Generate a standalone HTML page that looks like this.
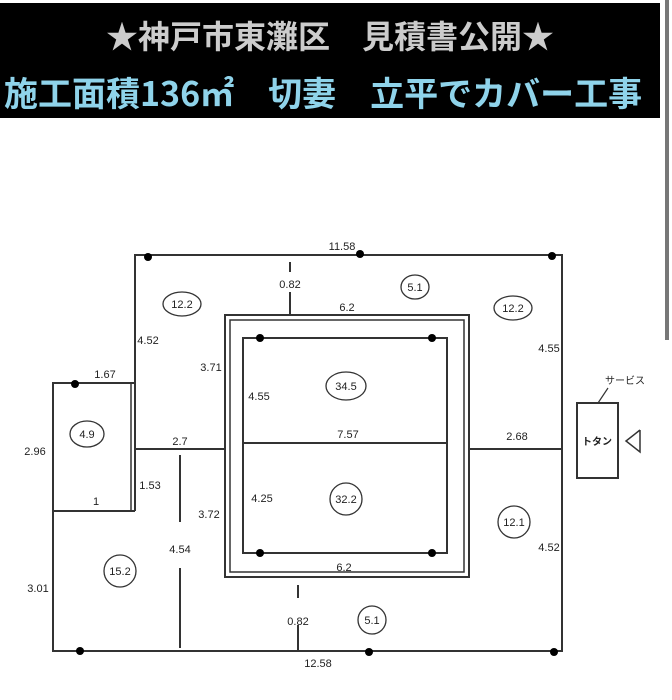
<!DOCTYPE html>
<html><head><meta charset="utf-8"><style>
body{margin:0;width:672px;height:700px;background:#fff;overflow:hidden;position:relative;font-family:"Liberation Sans","Noto Sans CJK JP",sans-serif}
.hd{position:absolute;left:0;top:3px;width:660px;height:115px;background:#000}
.t1{position:absolute;left:0;width:660px;top:12px;text-align:center;color:#ccc;font-size:32px;line-height:40px;font-weight:bold;font-family:"Noto Sans CJK JP",sans-serif;white-space:nowrap}
.t2{position:absolute;left:4px;top:68px;color:#8fd3ea;font-size:34px;line-height:42px;font-weight:bold;font-family:"Noto Sans CJK JP",sans-serif;white-space:nowrap}
</style></head><body>
<div class="hd"><div class="t1">★神戸市東灘区　見積書公開★</div><div class="t2">施工面積136㎡　切妻　立平でカバー工事</div></div>
<div style="position:absolute;left:665px;top:0;width:4px;height:340px;background:#777"></div>
<svg width="672" height="700" style="position:absolute;left:0;top:0" font-family="Liberation Sans, Noto Sans CJK JP, sans-serif" font-size="11" fill="#222">
<g stroke="#333" stroke-width="2" fill="none">
<polyline points="135,383 135,255 562,255 562,651 53,651 53,383 135,383"/>
<line x1="53" y1="511" x2="135" y2="511"/>
<line x1="131" y1="383" x2="131" y2="511" stroke-width="1.5"/>
<line x1="135" y1="383" x2="135" y2="511"/>
<line x1="135" y1="449" x2="225" y2="449"/>
<line x1="469" y1="449" x2="562" y2="449"/>
<rect x="225" y="315" width="244" height="262"/>
<rect x="230" y="320" width="234" height="252" stroke-width="1.5"/>
<rect x="243" y="338" width="204" height="215"/>
<line x1="243" y1="443" x2="447" y2="443"/>
<line x1="290" y1="262" x2="290" y2="272"/><line x1="290" y1="292" x2="290" y2="315"/>
<line x1="298" y1="585" x2="298" y2="598"/><line x1="298" y1="625" x2="298" y2="651"/>
<line x1="180" y1="455" x2="180" y2="522"/><line x1="180" y1="568" x2="180" y2="648"/>
<rect x="577" y="403" width="41" height="75"/>
<line x1="598" y1="403" x2="608" y2="388" stroke-width="1.2"/>
<polyline points="640,430 626,441 640,452 640,430" stroke-width="1.5"/>
</g>
<g fill="#000">
<circle cx="148" cy="257" r="4"/><circle cx="360" cy="254" r="4"/><circle cx="552" cy="256" r="4"/>
<circle cx="75" cy="384" r="4"/><circle cx="80" cy="651" r="4"/><circle cx="369" cy="652" r="4"/><circle cx="554" cy="652" r="4"/>
<circle cx="260" cy="338" r="4"/><circle cx="432" cy="338" r="4"/><circle cx="260" cy="553" r="4"/><circle cx="432" cy="553" r="4"/>
</g>
<g fill="none" stroke="#333" stroke-width="1.3">
<ellipse cx="182" cy="304" rx="19" ry="12"/><ellipse cx="415" cy="287" rx="14" ry="12"/><ellipse cx="513" cy="308" rx="19" ry="12"/>
<ellipse cx="87" cy="434" rx="17" ry="13"/><ellipse cx="346" cy="386" rx="20" ry="14"/><ellipse cx="346" cy="499" rx="16" ry="16"/>
<ellipse cx="514" cy="522" rx="16" ry="16"/><ellipse cx="120" cy="571" rx="16" ry="16"/><ellipse cx="372" cy="620" rx="14" ry="14"/>
</g>
<g text-anchor="middle">
<text x="182" y="308">12.2</text><text x="415" y="291">5.1</text><text x="513" y="312">12.2</text>
<text x="87" y="438">4.9</text><text x="346" y="390">34.5</text><text x="346" y="503">32.2</text>
<text x="514" y="526">12.1</text><text x="120" y="575">15.2</text><text x="372" y="624">5.1</text>
<text x="342" y="250">11.58</text><text x="290" y="288">0.82</text><text x="347" y="311">6.2</text>
<text x="148" y="344">4.52</text><text x="549" y="352">4.55</text><text x="105" y="378">1.67</text>
<text x="211" y="371">3.71</text><text x="259" y="400">4.55</text><text x="35" y="455">2.96</text>
<text x="180" y="445">2.7</text><text x="348" y="438">7.57</text><text x="517" y="440">2.68</text>
<text x="150" y="489">1.53</text><text x="96" y="505">1</text><text x="209" y="518">3.72</text>
<text x="262" y="502">4.25</text><text x="180" y="553">4.54</text><text x="549" y="551">4.52</text>
<text x="344" y="571">6.2</text><text x="38" y="592">3.01</text><text x="298" y="625">0.82</text>
<text x="318" y="667">12.58</text>
<text x="625" y="384" font-size="10">サービス</text>
<text x="597" y="445" font-size="10" font-weight="bold">トタン</text>
</g>
</svg>
</body></html>
